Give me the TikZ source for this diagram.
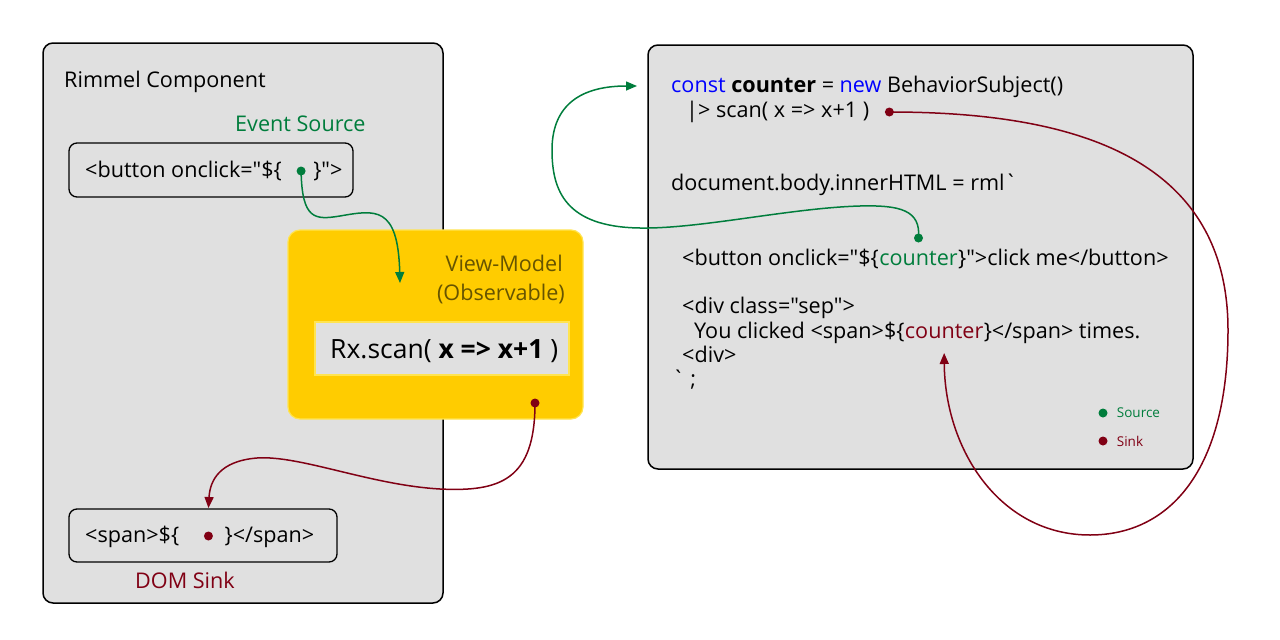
\documentclass[tikz,border=0pt]{standalone}
\usepackage{fontspec}
\newfontfamily\opensans{Open Sans}
\usetikzlibrary{arrows.meta,positioning}

\definecolor{panelgray}{RGB}{224,224,224}
\definecolor{srcgreen}{RGB}{0,125,60}
\definecolor{sinkred}{RGB}{128,0,20}
\definecolor{kwblue}{RGB}{0,0,255}
\definecolor{vmyellow}{RGB}{255,204,0}
\definecolor{vmedge}{RGB}{255,228,80}
\definecolor{vmtext}{RGB}{102,84,0}

\tikzset{
  panel/.style={draw=black, line width=1.5pt, fill=panelgray, rounded corners=10pt},
  tagbox/.style={draw=black, line width=1.3pt, rounded corners=8pt},
  vmbox/.style={draw=vmedge, line width=1.2pt, fill=vmyellow, rounded corners=12pt},
  scanbox/.style={draw=vmedge, line width=1.5pt, fill=panelgray},
  txt/.style={inner sep=0pt, anchor=base west, font=\opensans\fontsize{21.6pt}{26pt}\selectfont},
  bigtxt/.style={txt, font=\opensans\fontsize{26.5pt}{32pt}\selectfont},
  legend/.style={inner sep=0pt, font=\opensans\fontsize{13.5pt}{16pt}\selectfont},
  srcdot/.style={circle, fill=srcgreen, inner sep=0pt, minimum size=9pt},
  sinkdot/.style={circle, fill=sinkred, inner sep=0pt, minimum size=9pt},
  flow/.style={line width=1.5pt, -{Triangle[length=11pt,width=9pt]}}
}

\begin{document}
\begin{tikzpicture}[x=1pt, y=-1pt]
\useasboundingbox (0,0) rectangle (1280,640);

% draw the component panel
\draw[panel] (43,43) rectangle (443,603);
\node[txt] (compname) at (64,87) {Rimmel Component};
\node[txt, text=srcgreen] (evlabel) at (235,131) {Event Source};

\draw[tagbox] (69,143) rectangle (353,197);
\node[txt] (btnA) at (85,177) {<button onclick="\$\{};
\node[srcdot] (evsrc) at ([xshift=19pt,yshift=6pt]btnA.base east) {};
\node[txt] (btnB) at ([xshift=31pt]btnA.base east) {\}">};

\draw[tagbox] (69,509) rectangle (337,562);
\node[txt] (spanA) at (85,542) {<span>\$\{};
\node[sinkdot] (domsink) at ([xshift=29pt,yshift=6pt]spanA.base east) {};
\node[txt] (spanB) at ([xshift=45pt]spanA.base east) {\}</span>};
\node[txt, text=sinkred] (sinklabel) at (135,588) {DOM Sink};
\coordinate (spanin) at ([yshift=28pt]domsink.center);

% draw the view-model
\draw[vmbox] (288,230) rectangle (583,419);
\node[txt, anchor=base east, text=vmtext] (vmname) at (563,271) {View-Model};
\node[txt, anchor=base east, text=vmtext] (vmkind) at (565,300) {(Observable)};
\draw[scanbox] (315,322) rectangle (569,375);
\node[bigtxt] (rxscan) at (330,358) {Rx.scan( \textbf{x => x+1} )};
\node[sinkdot] (vmout) at (535,403) {};
\coordinate (vmin) at (400,283);

% draw the code panel
\draw[panel] (648,45) rectangle (1193,469);
\node[txt] (declline) at (671,92) {\textcolor{kwblue}{const} \textbf{counter} = \textcolor{kwblue}{new} BehaviorSubject()};
\node[txt] (scanline) at (686,117) {|> scan( x => x+1 )};
\node[sinkdot] (scanout) at ([xshift=20pt,yshift=5pt]scanline.base east) {};
\node[txt] (htmlline) at (671,190) {document.body.innerHTML = rml\symbol{96}};
\node[txt] (btnpre) at (682,265) {<button onclick="\$\{};
\node[txt, text=srcgreen] (srcword) at (btnpre.base east) {counter};
\node[txt] (btnpost) at (srcword.base east) {\}">click me</button>};
\node[srcdot] (clicksrc) at ([yshift=27pt]srcword.base) {};
\node[txt] (divopen) at (682,313) {<div class="sep">};
\node[txt] (spanpre) at (694,338) {You clicked <span>\$\{};
\node[txt, text=sinkred] (sinkword) at (spanpre.base east) {counter};
\node[txt] (spanpost) at (sinkword.base east) {\}</span> times.};
\node[txt] (divclose) at (682,362) {<div>};
\node[txt] (tickend) at (672,386) {\symbol{96} ;};
\coordinate (subjin) at (637,86);
\coordinate (sinkin) at ([yshift=-15pt]sinkword.base);

% draw the legend
\node[srcdot] (legsrc) at (1103,413) {};
\node[legend, text=srcgreen, right=9pt of legsrc] (legsrctxt) {Source};
\node[sinkdot] (legsink) at (1103,441) {};
\node[legend, text=sinkred, right=9pt of legsink] (legsinktxt) {Sink};

% draw the flows
\draw[flow, srcgreen] (evsrc.center) .. controls (302,220) and (315,220) .. (340,216)
      .. controls (375,210) and (398,205) .. (vmin);
\draw[flow, sinkred] (vmout.center) .. controls (535,480) and (500,492) .. (440,489)
      .. controls (370,485) and (300,455) .. (257,458)
      .. controls (220,461) and (210,480) .. (spanin);
\draw[flow, srcgreen] (clicksrc.center) .. controls (921,210) and (900,205) .. (860,206)
      .. controls (790,208) and (700,229) .. (640,228)
      .. controls (565,227) and (552,190) .. (552,150)
      .. controls (552,110) and (575,86) .. (subjin);
\draw[flow, sinkred] (scanout.center) .. controls (1060,112) and (1228,150) .. (1228,330)
      .. controls (1228,470) and (1170,535) .. (1090,535)
      .. controls (1000,535) and (945,450) .. (sinkin);

\end{tikzpicture}
\end{document}
